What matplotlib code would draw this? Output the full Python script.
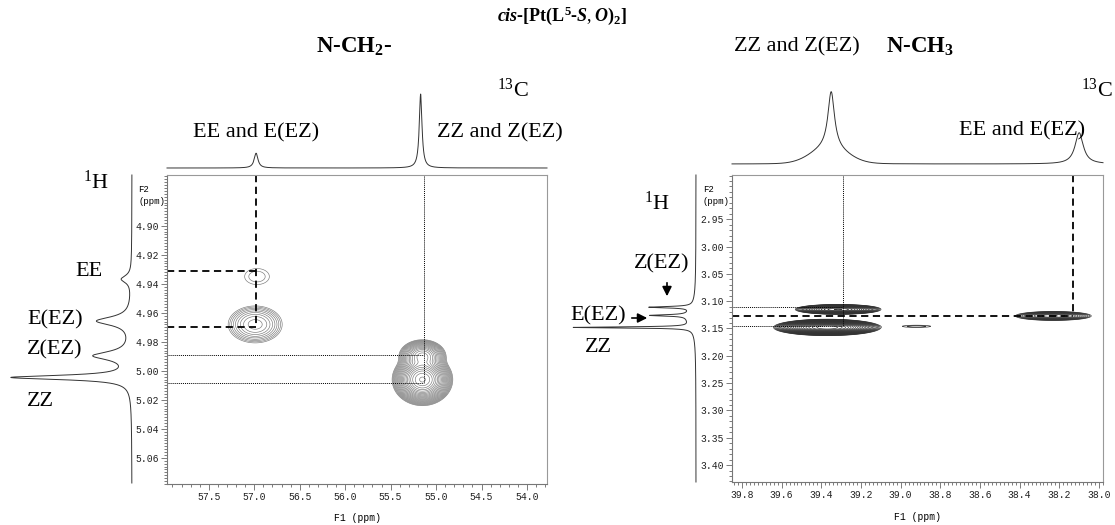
import numpy as np
import matplotlib.pyplot as plt
from matplotlib.ticker import MultipleLocator, FormatStrFormatter

plt.rcParams['mathtext.fontset'] = 'custom'
plt.rcParams['mathtext.rm'] = 'Liberation Serif'
plt.rcParams['mathtext.it'] = 'Liberation Serif:italic:bold'
plt.rcParams['mathtext.bf'] = 'Liberation Serif:bold'

# ---- N-CH2- panel (left) ----
ch2_c13_ppm = [56.98, 55.17]
ch2_c13_height = [0.20, 1.0]
ch2_c13_hwhm = [0.025, 0.018]

ch2_h1_ppm = [4.937, 4.966, 4.990, 5.005]
ch2_h1_height = [0.085, 0.29, 0.31, 1.0]
ch2_h1_hwhm = [0.003, 0.0035, 0.0035, 0.0018]

ch2_cross_c = [56.97, 56.99, 55.15, 55.15]
ch2_cross_h = [4.935, 4.968, 4.990, 5.006]
ch2_cross_amp = [1.6, 9.5, 60.0, 260.0]
ch2_cross_sc = [0.14, 0.14, 0.09, 0.10]
ch2_cross_sh = [0.0057, 0.006, 0.004, 0.0054]

ch2_dash_c = 56.98
ch2_dash_h = [4.931, 4.970]
ch2_dot_c = 55.135
ch2_dot_h = [4.989, 5.0085]

# ---- N-CH3 panel (right) ----
ch3_c13_ppm = [39.35, 38.10]
ch3_c13_height = [0.80, 0.44]
ch3_c13_hwhm = [0.02, 0.025]
ch3_c13_broad_ppm = [39.36]
ch3_c13_broad_height = [0.22]
ch3_c13_broad_sigma = [0.09]

ch3_h1_ppm = [3.111, 3.126, 3.148, 3.13]
ch3_h1_height = [0.36, 0.32, 1.0, 0.07]
ch3_h1_hwhm = [0.0015, 0.0015, 0.0012, 0.02]

ch3_cross_c = [39.315, 39.37, 38.92, 38.23]
ch3_cross_h = [3.115, 3.148, 3.146, 3.127]
ch3_cross_amp = [90.0, 260.0, 1.5, 15.0]
ch3_cross_sc = [0.072, 0.081, 0.08, 0.082]
ch3_cross_sh = [0.003, 0.0045, 0.0022, 0.0035]

ch3_dot_c = 39.29
ch3_dot_h = [3.110, 3.146]
ch3_dash_c = 38.13
ch3_dash_h = 3.128

W, H = 1115, 525
fig = plt.figure(figsize=(W / 100, H / 100), dpi=100)


def px_axes(x0, y0, x1, y1):
    return fig.add_axes([x0 / W, 1 - y1 / H, (x1 - x0) / W, (y1 - y0) / H])


def lorentz(x, pos, height, hw):
    y = np.zeros_like(x)
    for p, h, w in zip(pos, height, hw):
        y += h / (1 + ((x - p) / w) ** 2)
    return y


def gauss(x, pos, height, sig):
    y = np.zeros_like(x)
    for p, h, s in zip(pos, height, sig):
        y += h * np.exp(-(x - p) ** 2 / (2 * s ** 2))
    return y


def gauss2d(X, Y, cs, hs, amps, scs, shs):
    Z = np.zeros_like(X)
    for c, h, a, sc, sh in zip(cs, hs, amps, scs, shs):
        Z += a * np.exp(-((X - c) ** 2 / (2 * sc ** 2) + (Y - h) ** 2 / (2 * sh ** 2)))
    return Z


mono = 'Liberation Mono'


def style_2d(ax, xl, yl, xmaj, xmin, yticks, ymin):
    ax.xaxis.set_major_locator(MultipleLocator(xmaj))
    ax.xaxis.set_minor_locator(MultipleLocator(xmin))
    ax.set_yticks(yticks)
    ax.yaxis.set_minor_locator(MultipleLocator(ymin))
    ax.xaxis.set_major_formatter(FormatStrFormatter('%.1f'))
    ax.yaxis.set_major_formatter(FormatStrFormatter('%.2f'))
    ax.set_xlim(*xl)
    ax.set_ylim(*yl)
    ax.tick_params(which='both', direction='out', color='#666', width=0.6,
                   labelsize=7, labelcolor='#222', pad=2)
    ax.tick_params(which='major', length=4)
    ax.tick_params(which='minor', length=2)
    for lab in ax.get_xticklabels() + ax.get_yticklabels():
        lab.set_family(mono)
    for s in ['top', 'right']:
        ax.spines[s].set_color('#999')
        ax.spines[s].set_linewidth(0.8)
    for s in ['left', 'bottom']:
        ax.spines[s].set_color('#777')
        ax.spines[s].set_linewidth(0.8)


dash_kw = dict(color='k', lw=1.3, ls=(0, (4, 2.5)))
dot_kw = dict(color='k', lw=0.7, ls=(0, (1, 1)))

# ---------- left 2D ----------
axL = px_axes(167, 175, 547, 484)
xlL = (57.96, 53.78)
ylL = (5.078, 4.865)
xg = np.linspace(xlL[1], xlL[0], 500)
yg = np.linspace(ylL[1], ylL[0], 500)
X, Y = np.meshgrid(xg, yg)
Z = gauss2d(X, Y, ch2_cross_c, ch2_cross_h, ch2_cross_amp, ch2_cross_sc, ch2_cross_sh)
axL.contour(X, Y, Z, levels=1.3 ** np.arange(0, 25), colors='#777', linewidths=0.45)
style_2d(axL, xlL, ylL, 0.5, 0.1, [4.90, 4.92, 4.94, 4.96, 4.98, 5.00, 5.02, 5.04, 5.06], 0.002)
axL.plot([ch2_dash_c, ch2_dash_c], [ylL[1], ch2_dash_h[1]], **dash_kw)
for h in ch2_dash_h:
    axL.plot([xlL[0], ch2_dash_c], [h, h], **dash_kw)
axL.plot([ch2_dot_c, ch2_dot_c], [ylL[1], ch2_dot_h[1]], **dot_kw)
for h in ch2_dot_h:
    axL.plot([xlL[0], ch2_dot_c], [h, h], **dot_kw)

# left 13C trace
tL = px_axes(167, 94, 547, 168)
xs = np.linspace(xlL[1], xlL[0], 3000)
tL.plot(xs, lorentz(xs, ch2_c13_ppm, ch2_c13_height, ch2_c13_hwhm), color='#333', lw=0.7, clip_on=False)
tL.set_xlim(*xlL)
tL.set_ylim(0, 1)
tL.axis('off')

# left 1H trace
hL = px_axes(13, 175, 132, 483)
ys = np.linspace(ylL[1], ylL[0], 4000)
hL.plot(lorentz(ys, ch2_h1_ppm, ch2_h1_height, ch2_h1_hwhm), ys, color='#333', lw=0.7, clip_on=False)
hL.set_xlim(1, 0)
hL.set_ylim(*ylL)
hL.axis('off')

# ---------- right 2D ----------
axR = px_axes(732, 175, 1103, 482)
xlR = (39.85, 37.98)
ylR = (3.431, 2.869)
xg = np.linspace(xlR[1], xlR[0], 600)
yg = np.linspace(ylR[1], ylR[0], 700)
X, Y = np.meshgrid(xg, yg)
Z = gauss2d(X, Y, ch3_cross_c, ch3_cross_h, ch3_cross_amp, ch3_cross_sc, ch3_cross_sh)
axR.contour(X, Y, Z, levels=1.25 ** np.arange(0, 30), colors='#333', linewidths=0.5)
style_2d(axR, xlR, ylR, 0.2, 0.02, [2.95, 3.00, 3.05, 3.10, 3.15, 3.20, 3.25, 3.30, 3.35, 3.40], 0.01)
axR.plot([ch3_dot_c, ch3_dot_c], [ylR[1], ch3_dot_h[1]], **dot_kw)
for h in ch3_dot_h:
    axR.plot([xlR[0], ch3_dot_c], [h, h], **dot_kw)
axR.plot([ch3_dash_c, ch3_dash_c], [ylR[1], ch3_dash_h], **dash_kw)
axR.plot([xlR[0], ch3_dash_c], [ch3_dash_h, ch3_dash_h], **dash_kw)

# right 13C trace
tR = px_axes(732, 93, 1103, 164)
xs = np.linspace(xlR[1], xlR[0], 3000)
spec = lorentz(xs, ch3_c13_ppm, ch3_c13_height, ch3_c13_hwhm) + \
    gauss(xs, ch3_c13_broad_ppm, ch3_c13_broad_height, ch3_c13_broad_sigma)
tR.plot(xs, spec, color='#333', lw=0.7, clip_on=False)
tR.set_xlim(*xlR)
tR.set_ylim(0, 1)
tR.axis('off')

# right 1H trace
hR = px_axes(578, 175, 696, 482)
ys = np.linspace(ylR[1], ylR[0], 6000)
hR.plot(lorentz(ys, ch3_h1_ppm, ch3_h1_height, ch3_h1_hwhm), ys, color='#333', lw=0.7, clip_on=False)
hR.set_xlim(1, 0)
hR.set_ylim(*ylR)
hR.axis('off')

# ---------- overlay text ----------
ov = fig.add_axes([0, 0, 1, 1])
ov.set_xlim(0, W)
ov.set_ylim(H, 0)
ov.axis('off')
ov.patch.set_alpha(0)

serif = 'Liberation Serif'
ov.text(562, 16, r'$\mathit{cis}$-[Pt(L$^{\mathbf{5}}$-$\mathit{S,O}$)$_{\mathbf{2}}$]',
        family=serif, fontweight='bold', fontsize=13, ha='center', va='center')
ov.text(354, 47, r'N-CH$_{\mathbf{2}}$-', family=serif, fontweight='bold', fontsize=16.5, ha='center', va='center')
ov.text(513, 90, r'$^{13}$C', family=serif, fontsize=16, ha='center', va='center')
ov.text(256, 133, 'EE and E(EZ)', family=serif, fontsize=16, ha='center', va='center')
ov.text(500, 133, 'ZZ and Z(EZ)', family=serif, fontsize=16, ha='center', va='center')

ov.text(797, 47, 'ZZ and Z(EZ)', family=serif, fontsize=16, ha='center', va='center')
ov.text(920, 47, r'N-CH$_{\mathbf{3}}$', family=serif, fontweight='bold', fontsize=16.5, ha='center', va='center')
ov.text(1097, 90, r'$^{13}$C', family=serif, fontsize=16, ha='center', va='center')
ov.text(1022, 131, 'EE and E(EZ)', family=serif, fontsize=16, ha='center', va='center')

# 1H labels left
ov.text(96, 182, r'$^{1}$H', family=serif, fontsize=16, ha='center', va='center')
ov.text(89, 272, 'EE', family=serif, fontsize=16, ha='center', va='center')
ov.text(55, 320, 'E(EZ)', family=serif, fontsize=16, ha='center', va='center')
ov.text(55, 350, 'Z(EZ)', family=serif, fontsize=16, ha='center', va='center')
ov.text(40, 402, 'ZZ', family=serif, fontsize=16, ha='center', va='center')

# 1H labels right
ov.text(657, 203, r'$^{1}$H', family=serif, fontsize=16, ha='center', va='center')
ov.text(662, 264, 'Z(EZ)', family=serif, fontsize=16, ha='center', va='center')
ov.text(598, 316, 'E(EZ)', family=serif, fontsize=16, ha='center', va='center')
ov.text(598, 347, 'ZZ', family=serif, fontsize=16, ha='center', va='center')
ov.annotate('', xy=(667, 299), xytext=(667, 280),
            arrowprops=dict(arrowstyle='-|>', color='k', lw=1.2, mutation_scale=14))
ov.annotate('', xy=(650, 318), xytext=(629, 318),
            arrowprops=dict(arrowstyle='-|>', color='k', lw=1.2, mutation_scale=14))

# axis captions
for x0 in (0, 565):
    ov.text(138 + x0, 189, 'F2', family=mono, fontsize=6.5, ha='left', va='center')
    ov.text(138 + x0, 201, '(ppm)', family=mono, fontsize=6.5, ha='left', va='center')
ov.text(357, 518, 'F1 (ppm)', family=mono, fontsize=7, ha='center', va='center')
ov.text(917, 517, 'F1 (ppm)', family=mono, fontsize=7, ha='center', va='center')

fig.savefig('out.png', dpi=100)
